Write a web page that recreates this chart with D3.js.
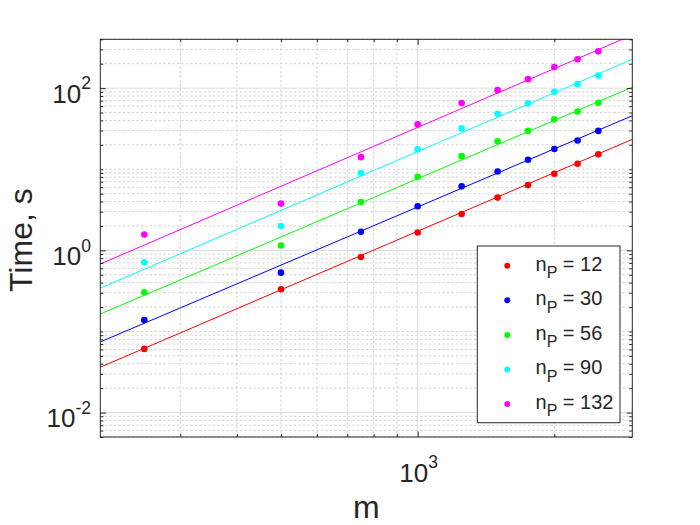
<!DOCTYPE html>
<html>
<head>
<meta charset="utf-8">
<script src="https://cdn.jsdelivr.net/npm/d3@7"></script>
<style>
  body { margin: 0; background: #fff; }
  svg { font-family: "Liberation Sans", Arial, Helvetica, sans-serif; }
</style>
</head>
<body>
<svg id="chart" width="700" height="525"></svg>
<script>
// problem size m on the x axis
var mValues = [250, 500, 750, 1000, 1250, 1500, 1750, 2000, 2250, 2500];

// measured run time (s) for each n_P
var seriesNames = ['12', '30', '56', '90', '132'];
var timeNp12  = [0.061, 0.332, 0.828, 1.66, 2.81, 4.47, 6.38, 8.81, 11.7, 15.3];
var timeNp30  = [0.138, 0.531, 1.69, 3.50, 6.15, 9.40, 13.1, 17.8, 22.6, 29.7];
var timeNp56  = [0.305, 1.15, 3.95, 8.09, 14.5, 22.1, 29.7, 41.2, 51.6, 66.0];
var timeNp90  = [0.713, 2.00, 8.96, 17.6, 31.9, 48.4, 64.8, 90.1, 112, 143];
var timeNp132 = [1.57, 3.77, 14.1, 35.7, 65.5, 94.5, 129, 182, 227, 284];

// fitted power-law lines, value at the left (m=200) and right (m=2970) edge
var fitM     = [200, 2970];
var fitNp12  = [0.0363, 23.4];
var fitNp30  = [0.0743, 45.7];
var fitNp56  = [0.164, 102.8];
var fitNp90  = [0.342, 227];
var fitNp132 = [0.679, 451];

var colors = ['#ff0000', '#0000ff', '#00ff00', '#00ffff', '#ff00ff'];

// axis ticks
var xMajor = [1000];
var xMinor = [300, 400, 500, 600, 700, 800, 900, 2000];
var yMajor = [0.01, 1, 100];
var yMajorExp = ['-2', '0', '2'];
var yMinor = [];
[-3, -2, -1, 0, 1, 2].forEach(function(k) {
  for (var j = 1; j <= 9; j++) {
    var v = j * Math.pow(10, k);
    if (j === 1 && k % 2 === 0) continue;
    if (v >= 0.005 && v <= 400) yMinor.push(v);
  }
});

var times = [timeNp12, timeNp30, timeNp56, timeNp90, timeNp132];
var fits = [fitNp12, fitNp30, fitNp56, fitNp90, fitNp132];

var pLeft = 100.3, pRight = 632.3, pTop = 39.3, pBottom = 437;
var axisColor = '#262626';

var svg = d3.select('#chart');

var x = d3.scaleLog().domain([200, 2970]).range([pLeft, pRight]);
var y = d3.scaleLog().domain([0.005, 400]).range([pBottom, pTop]);

svg.append('defs').append('clipPath').attr('id', 'plotClip')
  .append('rect')
  .attr('x', pLeft).attr('y', pTop)
  .attr('width', pRight - pLeft).attr('height', pBottom - pTop);

// grid
var grid = svg.append('g');
grid.selectAll('.xminor').data(xMinor).enter().append('line')
  .attr('x1', function(d) { return x(d); }).attr('x2', function(d) { return x(d); })
  .attr('y1', pTop).attr('y2', pBottom)
  .attr('stroke', '#d4d4d4').attr('stroke-dasharray', '2.5,2');
grid.selectAll('.yminor').data(yMinor).enter().append('line')
  .attr('y1', function(d) { return y(d); }).attr('y2', function(d) { return y(d); })
  .attr('x1', pLeft).attr('x2', pRight)
  .attr('stroke', '#d4d4d4').attr('stroke-dasharray', '2.5,2');
grid.selectAll('.xmajor').data(xMajor).enter().append('line')
  .attr('x1', function(d) { return x(d); }).attr('x2', function(d) { return x(d); })
  .attr('y1', pTop).attr('y2', pBottom)
  .attr('stroke', '#dcdcdc');
grid.selectAll('.ymajor').data(yMajor).enter().append('line')
  .attr('y1', function(d) { return y(d); }).attr('y2', function(d) { return y(d); })
  .attr('x1', pLeft).attr('x2', pRight)
  .attr('stroke', '#dcdcdc');

// fit lines
var plot = svg.append('g').attr('clip-path', 'url(#plotClip)');
var line = d3.line()
  .x(function(d) { return x(d[0]); })
  .y(function(d) { return y(d[1]); });

fits.forEach(function(f, i) {
  plot.append('path')
    .datum(d3.zip(fitM, f))
    .attr('d', line)
    .attr('fill', 'none')
    .attr('stroke', colors[i])
    .attr('stroke-width', 1);
});

// measured points
times.forEach(function(t, i) {
  plot.selectAll('.pt' + i).data(d3.zip(mValues, t)).enter().append('circle')
    .attr('cx', function(d) { return x(d[0]); })
    .attr('cy', function(d) { return y(d[1]); })
    .attr('r', 3.3)
    .attr('fill', colors[i]);
});

// axes: ticks pointing inward on all sides
function styleAxis(g) {
  g.select('.domain').remove();
  g.selectAll('line').attr('stroke', axisColor);
}
var major = 5.5, minor = 3;
svg.append('g').attr('transform', 'translate(0,' + pBottom + ')')
  .call(d3.axisBottom(x).tickValues(xMinor).tickSize(-minor).tickFormat('')).call(styleAxis);
svg.append('g').attr('transform', 'translate(0,' + pTop + ')')
  .call(d3.axisTop(x).tickValues(xMinor).tickSize(-minor).tickFormat('')).call(styleAxis);
svg.append('g').attr('transform', 'translate(0,' + pBottom + ')')
  .call(d3.axisBottom(x).tickValues(xMajor).tickSize(-major).tickFormat('')).call(styleAxis);
svg.append('g').attr('transform', 'translate(0,' + pTop + ')')
  .call(d3.axisTop(x).tickValues(xMajor).tickSize(-major).tickFormat('')).call(styleAxis);
svg.append('g').attr('transform', 'translate(' + pLeft + ',0)')
  .call(d3.axisLeft(y).tickValues(yMinor).tickSize(-minor).tickFormat('')).call(styleAxis);
svg.append('g').attr('transform', 'translate(' + pRight + ',0)')
  .call(d3.axisRight(y).tickValues(yMinor).tickSize(-minor).tickFormat('')).call(styleAxis);
svg.append('g').attr('transform', 'translate(' + pLeft + ',0)')
  .call(d3.axisLeft(y).tickValues(yMajor).tickSize(-major).tickFormat('')).call(styleAxis);
svg.append('g').attr('transform', 'translate(' + pRight + ',0)')
  .call(d3.axisRight(y).tickValues(yMajor).tickSize(-major).tickFormat('')).call(styleAxis);

// box
svg.append('rect')
  .attr('x', pLeft).attr('y', pTop)
  .attr('width', pRight - pLeft).attr('height', pBottom - pTop)
  .attr('fill', 'none').attr('stroke', axisColor).attr('stroke-width', 1);

// tick labels
var yLab = svg.selectAll('.ylab').data(yMajor).enter().append('text')
  .attr('x', 91)
  .attr('y', function(d) { return y(d) + 14.8; })
  .attr('text-anchor', 'end')
  .attr('fill', axisColor)
  .attr('font-size', 26);
yLab.append('tspan').text('10');
yLab.append('tspan').attr('dy', -13.5).attr('font-size', 17.5)
  .text(function(d, i) { return yMajorExp[i]; });

var xLab = svg.selectAll('.xlab').data(xMajor).enter().append('text')
  .attr('x', function(d) { return x(d) + 1; })
  .attr('y', pBottom + 44.5)
  .attr('text-anchor', 'middle')
  .attr('fill', axisColor)
  .attr('font-size', 26);
xLab.append('tspan').text('10');
xLab.append('tspan').attr('dy', -13.5).attr('font-size', 17.5).text('3');

// axis titles
svg.append('text')
  .attr('x', (pLeft + pRight) / 2).attr('y', 518)
  .attr('text-anchor', 'middle')
  .attr('fill', axisColor)
  .attr('font-size', 32)
  .text('m');
svg.append('text')
  .attr('transform', 'translate(32,' + ((pTop + pBottom) / 2 + 2) + ') rotate(-90)')
  .attr('text-anchor', 'middle')
  .attr('fill', axisColor)
  .attr('font-size', 32)
  .text('Time, s');

// legend
var legend = svg.append('g');
legend.append('rect')
  .attr('x', 477.3).attr('y', 246).attr('width', 142.7).attr('height', 176.7)
  .attr('fill', '#fff').attr('stroke', axisColor).attr('stroke-width', 1);
seriesNames.forEach(function(name, i) {
  var ry = 265.7 + i * 34.6;
  legend.append('circle')
    .attr('cx', 507.3).attr('cy', ry).attr('r', 3)
    .attr('fill', colors[i]);
  var t = legend.append('text')
    .attr('x', 535.5).attr('y', ry + 4.8)
    .attr('fill', axisColor)
    .attr('font-size', 20);
  t.append('tspan').text('n');
  t.append('tspan').attr('dy', 7.5).attr('font-size', 16).text('P');
  t.append('tspan').attr('dy', -7.5).text(' = ' + name);
});
</script>
</body>
</html>
